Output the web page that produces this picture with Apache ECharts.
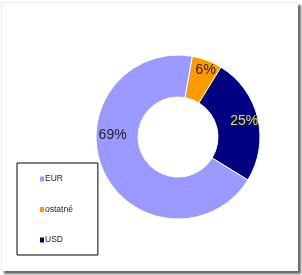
<!DOCTYPE html>
<html>
<head>
<meta charset="utf-8">
<script src="https://cdn.jsdelivr.net/npm/echarts@6/dist/echarts.min.js"></script>
<style>
  html, body { margin: 0; padding: 0; background: #fff; }
  #frame {
    position: absolute; left: 1px; top: 2px; width: 296px; height: 268px;
    border-top: 1px solid #eee; border-left: 1px solid #eee;
    box-shadow: 3px 3px 2px #6a6a6a; background: #fff;
  }
  #main { position: absolute; left: 0; top: 0; width: 302px; height: 275px; }
</style>
</head>
<body>
<div id="frame"></div>
<div id="main"></div>
<script>
  // slices in clockwise order starting near the top
  var categories = ['ostatné', 'USD', 'EUR'];
  var values = [6, 25, 69];
  var legendNames = ['EUR', 'ostatné', 'USD'];

  var colors = { 'ostatné': '#ff9900', 'USD': '#000080', 'EUR': '#9999ff' };
  var labelColors = { 'ostatné': '#222', 'USD': '#e6e62e', 'EUR': '#222' };
  var labelOffsets = { 'ostatné': [5, -7], 'USD': [4, -1], 'EUR': [-7, -28] };

  var rich = { t: { fontSize: 8.5, color: '#222', fontFamily: 'Liberation Sans', padding: [0, 0, 0, 1] } };
  legendNames.forEach(function (n, i) {
    rich['c' + i] = { width: 4, height: 5, backgroundColor: colors[n] };
  });

  var myChart = echarts.init(document.getElementById('main'));
  myChart.setOption({
    animation: false,
    backgroundColor: 'transparent',
    legend: {
      data: legendNames,
      orient: 'vertical',
      left: 17,
      top: 163,
      icon: 'none',
      itemWidth: 0,
      itemHeight: 10,
      itemGap: 18.5,
      padding: [10, 25, 9, 18],
      borderColor: '#000',
      borderWidth: 1,
      selectedMode: false,
      formatter: function (name) {
        return '{c' + legendNames.indexOf(name) + '|}{t|' + name + '}';
      },
      textStyle: { rich: rich }
    },
    series: [{
      type: 'pie',
      center: [178, 137],
      radius: [40, 82],
      startAngle: 80,
      clockwise: true,
      label: {
        position: 'inside',
        formatter: '{c}%',
        fontSize: 14,
        fontFamily: 'Liberation Sans'
      },
      labelLine: { show: false },
      itemStyle: { borderColor: '#fff', borderWidth: 1 },
      emphasis: { disabled: true },
      data: categories.map(function (c, i) {
        return {
          name: c,
          value: values[i],
          itemStyle: { color: colors[c] },
          label: { color: labelColors[c], offset: labelOffsets[c] }
        };
      })
    }]
  });
</script>
</body>
</html>
